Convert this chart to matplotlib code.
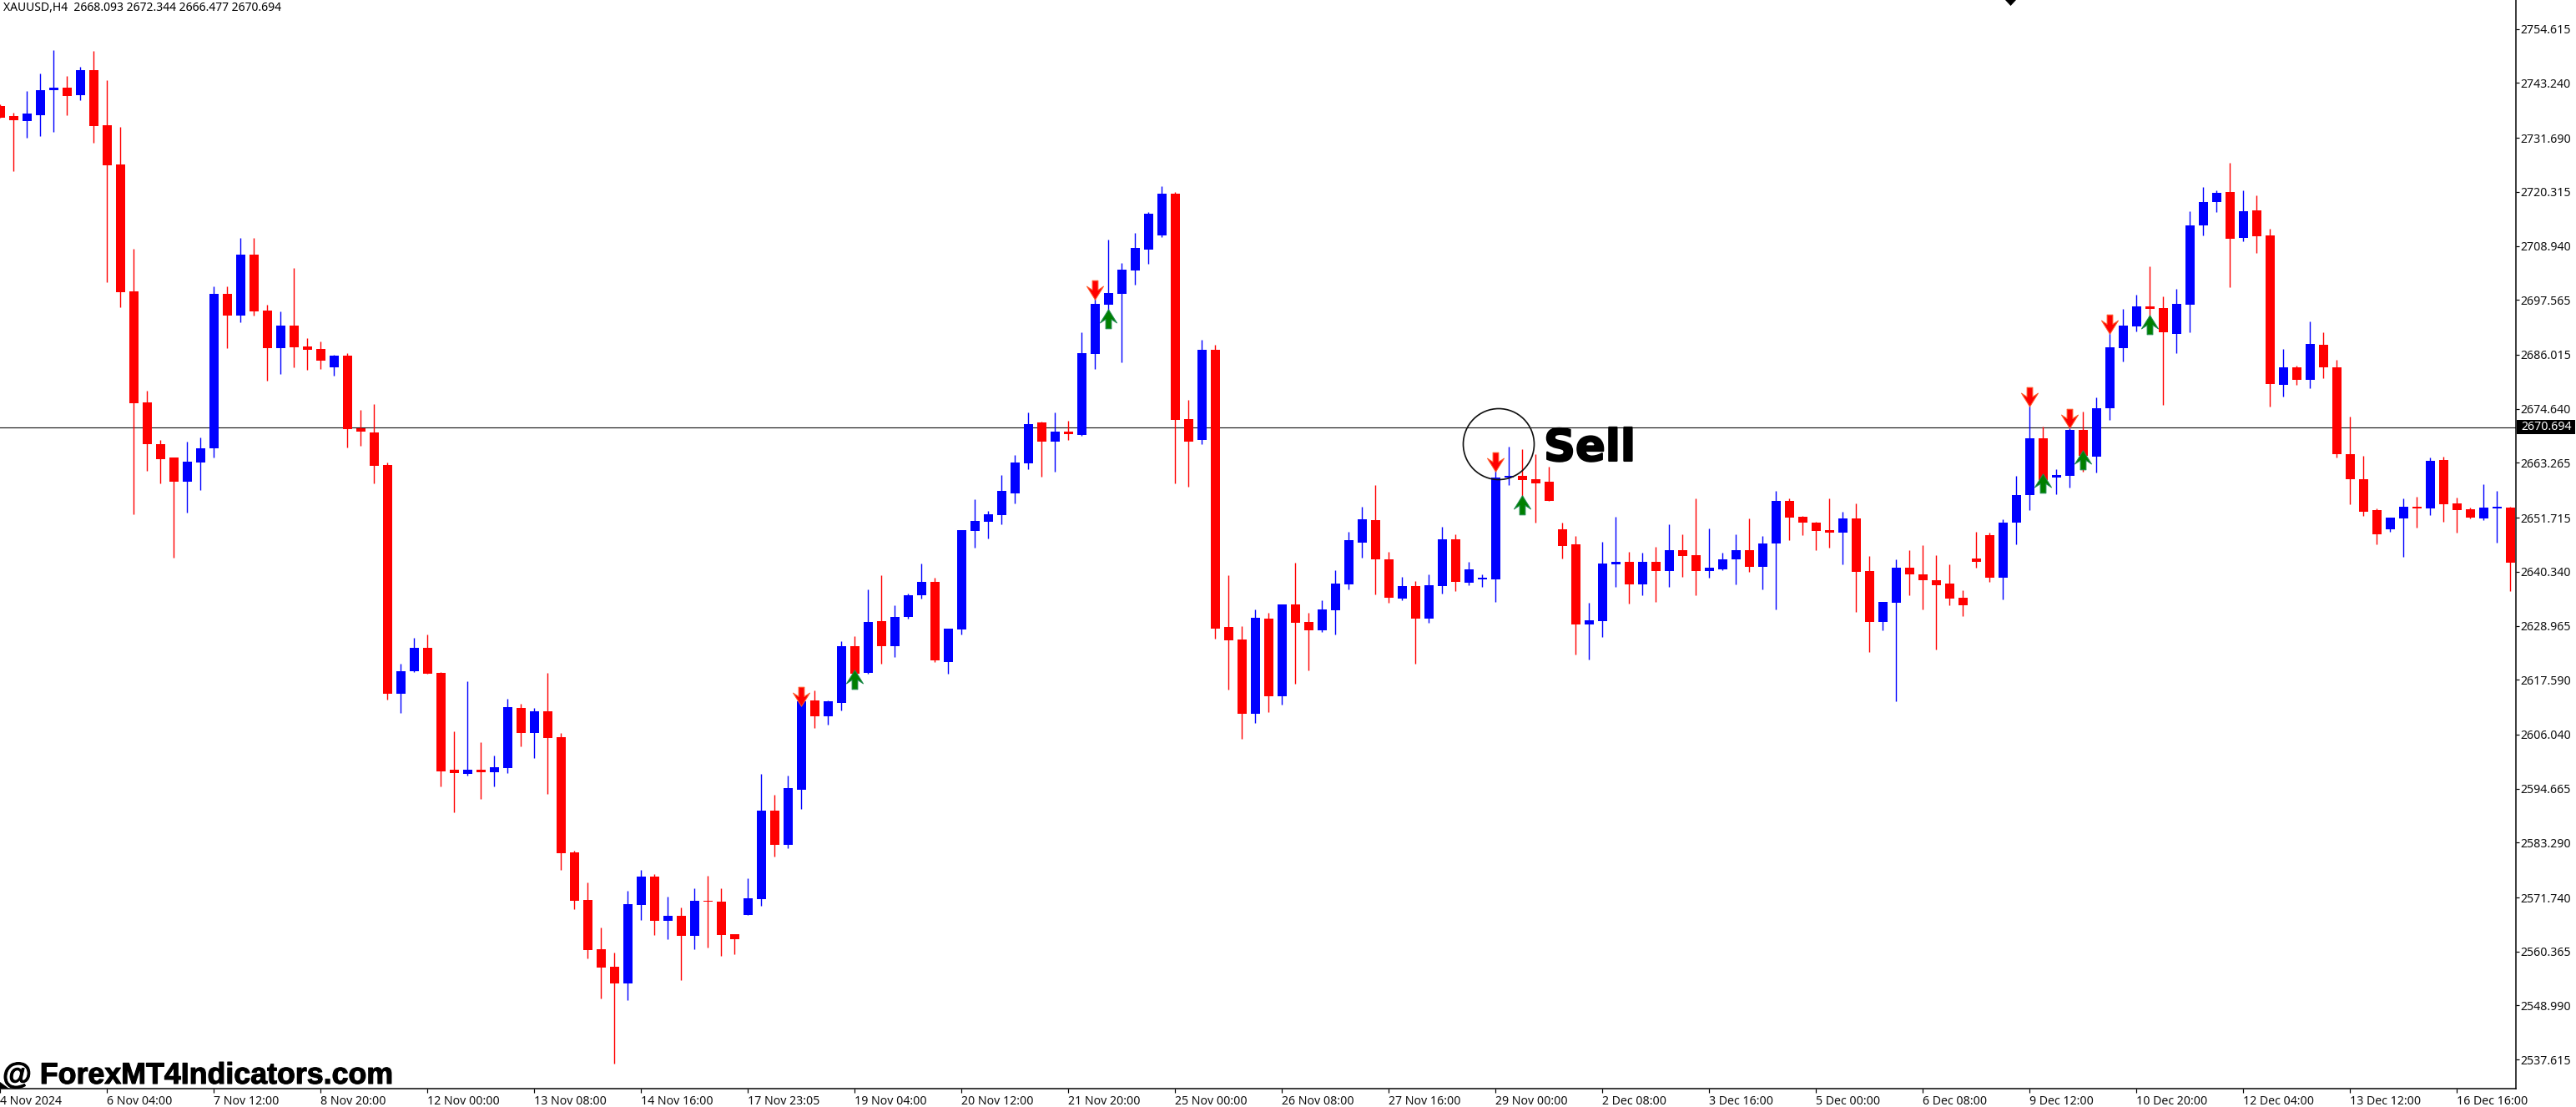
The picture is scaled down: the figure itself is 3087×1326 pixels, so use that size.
import matplotlib
matplotlib.use("Agg")
import matplotlib.pyplot as plt
import matplotlib.patheffects as pe
from matplotlib.patches import Ellipse, Polygon
from matplotlib.path import Path
from matplotlib.ticker import FixedLocator, FixedFormatter
import numpy as np

W, H = 3087, 1326
DPI = 100
FONT = "Noto Sans"

opens = [2738.4,2736.3,2735.3,2736.5,2741.7,2742.3,2740.6,2746.0,2734.4,2726.1,2699.3,2676.0,2667.2,2664.3,2659.3,2663.4,2666.3,2698.9,2694.3,2707.1,
 2695.3,2687.4,2692.2,2687.7,2687.3,2683.3,2685.8,2670.5,2669.6,2662.8,2614.6,2619.4,2624.3,2619.1,2598.6,2597.8,2598.7,2598.1,2599.0,2611.6,
 2606.3,2611.0,2605.5,2581.3,2571.2,2560.8,2557.2,2553.7,2570.2,2576.1,2566.9,2567.9,2563.6,2571.1,2570.9,2564.1,2568.1,2571.4,2590.1,2582.8,
 2594.4,2613.3,2609.9,2612.7,2624.7,2619.1,2629.9,2624.6,2630.8,2635.3,2638.2,2621.4,2628.1,2648.9,2650.9,2652.2,2656.8,2663.2,2671.8,2667.7,
 2669.9,2669.2,2686.2,2696.5,2698.9,2703.8,2708.1,2711.2,2720.0,2672.4,2668.0,2687.1,2628.7,2626.1,2610.5,2630.5,2614.2,2633.5,2629.8,2628.0,
 2632.3,2637.6,2646.4,2651.2,2642.9,2634.7,2637.3,2630.4,2637.3,2647.2,2638.1,2638.8,2638.7,2660.1,2660.5,2659.8,2659.3,2649.2,2646.1,2629.2,
 2629.9,2641.9,2642.5,2637.6,2642.4,2640.5,2644.9,2643.9,2640.5,2640.9,2642.9,2644.8,2641.4,2646.3,2655.2,2651.9,2650.7,2649.1,2648.6,2651.6,
 2640.5,2629.8,2633.8,2641.1,2639.7,2638.5,2637.8,2634.8,2643.1,2648.0,2639.0,2650.6,2656.4,2668.4,2660.2,2660.5,2670.2,2664.5,2674.7,2687.4,
 2692.0,2696.2,2695.9,2690.4,2696.5,2713.3,2718.2,2720.3,2710.6,2716.4,2711.2,2679.7,2683.4,2680.8,2688.2,2683.3,2665.1,2659.9,2653.3,2649.2,
 2651.6,2654.0,2653.6,2663.8,2654.7,2653.5,2651.6,2653.7,2653.9]
highs = [2738.7,2736.9,2741.5,2745.3,2750.2,2744.7,2746.6,2749.9,2743.8,2734.0,2708.4,2678.5,2668.0,2664.4,2667.7,2668.6,2700.4,2700.4,2710.6,2710.6,
 2696.5,2695.2,2704.2,2689.5,2688.8,2686.0,2686.4,2674.4,2675.7,2663.4,2620.9,2626.5,2627.2,2619.2,2606.7,2617.3,2604.5,2601.7,2613.6,2612.5,
 2611.6,2619.1,2606.3,2581.6,2574.9,2565.4,2560.1,2573.1,2577.6,2576.7,2572.0,2569.7,2573.6,2576.4,2573.6,2564.1,2575.8,2597.7,2593.4,2597.4,
 2614.3,2615.4,2613.3,2625.8,2626.8,2636.6,2639.6,2633.3,2635.7,2642.1,2639.1,2628.4,2649.1,2655.6,2653.1,2660.7,2665.0,2673.8,2672.0,2673.8,
 2672.1,2690.7,2698.3,2710.3,2705.4,2711.7,2716.0,2721.6,2720.3,2676.6,2689.1,2688.2,2639.6,2628.9,2632.4,2631.7,2633.5,2642.3,2631.7,2634.4,
 2640.6,2648.8,2654.1,2658.5,2644.5,2639.3,2638.4,2639.7,2649.8,2648.2,2642.5,2639.7,2661.9,2666.6,2666.2,2665.1,2662.5,2650.6,2647.9,2633.8,
 2646.7,2651.9,2644.5,2644.3,2645.5,2650.3,2648.3,2655.8,2649.4,2644.3,2648.2,2651.6,2647.9,2657.4,2655.8,2652.1,2650.9,2655.8,2652.9,2654.7,
 2643.6,2633.9,2642.9,2644.8,2646.0,2643.9,2641.9,2636.5,2648.8,2648.5,2651.3,2660.5,2675.2,2670.9,2661.9,2671.5,2674.1,2677.0,2690.9,2695.6,
 2698.7,2704.7,2698.3,2699.9,2716.3,2721.3,2720.6,2726.4,2720.6,2719.5,2712.6,2687.3,2683.7,2693.1,2690.7,2684.9,2673.0,2664.7,2653.7,2651.8,
 2655.8,2656.1,2664.4,2664.5,2655.9,2653.9,2658.7,2657.4,2654.0]
lows = [2736.0,2724.7,2731.7,2732.0,2732.9,2736.5,2739.6,2730.7,2701.3,2696.1,2652.5,2661.6,2658.9,2643.3,2652.8,2657.6,2664.4,2687.4,2692.9,2694.3,
 2680.5,2681.9,2683.4,2682.8,2683.0,2681.6,2666.5,2666.9,2658.9,2613.4,2610.6,2619.2,2618.8,2595.1,2589.6,2597.4,2592.5,2595.1,2598.0,2603.6,
 2601.1,2593.5,2577.6,2569.3,2558.9,2550.4,2536.7,2550.1,2567.0,2563.9,2563.0,2554.4,2560.8,2561.2,2559.5,2559.8,2568.1,2570.0,2580.4,2582.2,
 2590.4,2607.5,2608.2,2611.2,2616.5,2618.8,2621.0,2622.3,2630.5,2634.7,2621.3,2618.9,2627.2,2645.4,2647.3,2650.3,2654.7,2661.9,2660.4,2661.4,
 2668.1,2669.0,2683.0,2694.6,2684.5,2700.8,2705.1,2710.8,2658.9,2658.3,2667.2,2626.2,2615.5,2605.1,2608.5,2610.7,2612.4,2616.8,2619.5,2627.7,
 2627.1,2636.6,2643.3,2635.6,2633.8,2634.4,2620.9,2629.5,2635.7,2636.3,2637.5,2637.2,2633.9,2658.5,2655.9,2650.6,2655.2,2643.1,2622.9,2621.9,
 2626.6,2637.2,2633.6,2635.4,2633.9,2637.2,2639.3,2635.3,2639.0,2640.6,2637.6,2640.3,2636.6,2632.4,2646.9,2648.0,2644.8,2645.4,2641.9,2631.8,
 2623.4,2628.0,2613.0,2635.3,2632.4,2624.0,2633.2,2631.0,2641.1,2638.2,2634.5,2646.1,2653.3,2657.4,2656.7,2658.0,2661.4,2661.3,2672.3,2684.6,
 2691.0,2690.9,2675.4,2686.4,2690.7,2711.2,2716.1,2700.2,2709.9,2707.4,2675.1,2677.2,2679.6,2679.0,2681.0,2664.4,2654.6,2652.1,2646.1,2648.8,
 2643.4,2649.7,2652.2,2650.9,2648.6,2651.5,2651.2,2646.4,2636.3]
closes = [2736.0,2735.4,2736.8,2741.8,2742.3,2740.5,2746.0,2734.1,2725.9,2699.2,2675.8,2667.2,2664.1,2659.3,2663.5,2666.3,2698.9,2694.3,2707.1,2695.2,
 2687.4,2692.2,2687.6,2687.1,2684.8,2685.8,2670.3,2669.8,2662.6,2614.6,2619.4,2624.3,2618.9,2598.3,2598.0,2598.7,2598.1,2599.1,2611.8,2606.3,
 2611.0,2605.4,2581.0,2571.1,2560.7,2556.9,2553.7,2570.3,2576.1,2566.9,2567.9,2563.6,2571.1,2570.8,2563.9,2563.0,2571.6,2590.1,2582.8,2594.7,
 2613.1,2609.9,2613.0,2624.7,2618.8,2629.8,2624.6,2630.8,2635.4,2638.2,2621.6,2628.4,2649.1,2651.0,2652.5,2657.3,2663.4,2671.5,2667.7,2669.9,
 2669.3,2686.4,2696.8,2699.0,2703.9,2708.5,2715.7,2720.0,2672.3,2667.7,2687.1,2628.4,2625.9,2610.5,2630.7,2614.2,2633.5,2629.6,2628.0,2632.4,
 2637.8,2646.9,2651.3,2642.9,2634.8,2637.3,2630.4,2637.5,2647.2,2638.2,2640.9,2639.1,2660.1,2660.5,2659.6,2658.9,2655.2,2645.8,2629.2,2630.1,
 2642.1,2642.5,2637.6,2642.4,2640.5,2644.9,2643.6,2640.5,2641.2,2643.0,2644.8,2641.4,2646.3,2655.2,2651.8,2650.6,2648.9,2648.6,2651.6,2640.3,
 2629.8,2633.9,2641.1,2639.7,2638.5,2637.5,2634.7,2633.2,2642.5,2639.0,2650.7,2656.4,2668.4,2659.6,2660.7,2670.2,2664.8,2674.8,2687.6,2692.2,
 2696.2,2695.6,2690.7,2696.8,2713.3,2718.2,2720.1,2710.5,2716.3,2710.9,2679.9,2683.4,2680.8,2688.3,2683.3,2665.1,2659.9,2652.9,2648.3,2651.8,
 2654.0,2653.7,2663.7,2654.6,2653.3,2651.8,2653.9,2654.0,2642.3]

sell_bars = [60, 82, 112, 152, 155, 158]
sell_prices = [2614.2, 2699.8, 2663.5, 2677.3, 2672.6, 2692.5]
buy_bars = [64, 83, 114, 153, 156, 161]
buy_prices = [2617.7, 2693.5, 2654.4, 2658.9, 2663.8, 2692.3]

last_price = 2670.694
y_ticks = [2754.615,2743.240,2731.690,2720.315,2708.940,2697.565,2686.015,2674.640,2663.265,2651.715,
           2640.340,2628.965,2617.590,2606.040,2594.665,2583.290,2571.740,2560.365,2548.990,2537.615]
x_labels = ["4 Nov 2024","6 Nov 04:00","7 Nov 12:00","8 Nov 20:00","12 Nov 00:00","13 Nov 08:00","14 Nov 16:00",
            "17 Nov 23:05","19 Nov 04:00","20 Nov 12:00","21 Nov 20:00","25 Nov 00:00","26 Nov 08:00","27 Nov 16:00",
            "29 Nov 00:00","2 Dec 08:00","3 Dec 16:00","5 Dec 00:00","6 Dec 08:00","9 Dec 12:00","10 Dec 20:00",
            "12 Dec 04:00","13 Dec 12:00","16 Dec 16:00"]
label_step = 8
header = "XAUUSD,H4  2668.093 2672.344 2666.477 2670.694"

o, h, l, c = map(np.array, (opens, highs, lows, closes))
x = np.arange(len(o))
up = c >= o
colors = np.where(up, "#0000ff", "#ff0000")

px = 72 / DPI
fig = plt.figure(figsize=(W / DPI, H / DPI), dpi=DPI, facecolor="white")
R, B = 3014.5, 1304
ax = fig.add_axes([0, 1 - B / H, R / W, B / H])
ax.set_facecolor("white")
ax.set_xlim(-0.025, 188.38)
ax.set_ylim(2531.5, 2760.71)

ax.axhline(last_price, color="#101010", lw=1.1 * px, zorder=1)
ax.vlines(x, l, h, colors=colors, lw=1.4 * px, zorder=2)
ax.bar(x, np.maximum(np.abs(c - o), 0.3), bottom=np.minimum(o, c), width=11 / 16, color=colors, lw=0, zorder=3)

down_verts = [(-3.4, 11.3), (3.4, 11.3), (3.4, 0), (10, 4.4), (0, -11.7), (-10, 4.4), (-3.4, 0), (-3.4, 11.3)]
down = Path(down_verts, closed=True)
upw = Path([(a, -b) for a, b in down_verts], closed=True)
ax.plot(sell_bars, sell_prices, ls="", marker=down, ms=23.4 * px, mfc="#ff0000", mec="#ff5a2a", mew=1.0 * px, zorder=5)
ax.plot(buy_bars, buy_prices, ls="", marker=upw, ms=23.4 * px, mfc="#008000", mec="#1f8a4f", mew=1.0 * px, zorder=5)

for s in ("left", "top"):
    ax.spines[s].set_visible(False)
for s in ("right", "bottom"):
    ax.spines[s].set_linewidth(1.5 * px)
    ax.spines[s].set_color("black")

ax.yaxis.tick_right()
ax.yaxis.set_major_locator(FixedLocator(y_ticks))
ax.yaxis.set_major_formatter(FixedFormatter([f"{v:.3f}" for v in y_ticks]))
ax.tick_params(axis="y", length=4 * px, width=1.2 * px, pad=1.5, labelsize=10.2, labelfontfamily=FONT, labelcolor="#101010")
ax.xaxis.set_major_locator(FixedLocator(list(range(0, len(x_labels) * label_step, label_step))))
ax.xaxis.set_major_formatter(FixedFormatter(x_labels))
ax.tick_params(axis="x", length=5 * px, width=1.2 * px, pad=2, labelsize=10.2, labelfontfamily=FONT, labelcolor="#101010")
for t in ax.get_xticklabels():
    t.set_ha("left")

# Current-price tag on the axis
fig.add_artist(Polygon([(3016 / W, 1 - 503 / H), (3086 / W, 1 - 503 / H), (3086 / W, 1 - 520.5 / H), (3016 / W, 1 - 520.5 / H)],
                       closed=True, transform=fig.transFigure, fc="black", ec="none", zorder=2))
fig.text(3021.5 / W, 1 - 511.8 / H, f"{last_price:.3f}", color="white", fontsize=10.2, family=FONT, va="center", ha="left", zorder=3)

fig.text(4 / W, 1 - 9.5 / H, header, fontsize=10.05, family=FONT, color="black", va="center", ha="left", zorder=3)

fig.add_artist(Ellipse((1796 / W, 1 - 532 / H), 85 / W, 85 / H, transform=fig.transFigure, fc="none", ec="#111111", lw=1.7 * px, zorder=6))
fig.text(1850 / W, 1 - 552 / H, "Sell", fontsize=38, family="DejaVu Sans", weight="bold", color="black", va="baseline", ha="left",
         path_effects=[pe.withStroke(linewidth=1.5, foreground="black")], zorder=6)
fig.text(3 / W, 1 - 1298 / H, "@ ForexMT4Indicators.com", fontsize=25.75, family="Liberation Sans", weight="bold", color="black",
         va="baseline", ha="left", path_effects=[pe.withStroke(linewidth=0.8, foreground="black")], zorder=6)

fig.add_artist(Polygon([(2403 / W, 1.0), (2416 / W, 1.0), (2409.5 / W, 1 - 7 / H)], closed=True, transform=fig.transFigure, fc="black", ec="none", zorder=6))
fig.add_artist(Polygon([(0, 1 - 1296 / H), (11 / W, 1 - 1304 / H), (0, 1 - 1304 / H)], closed=True, transform=fig.transFigure, fc="black", ec="none", zorder=6))

fig.savefig("out.png", dpi=DPI, facecolor="white")
